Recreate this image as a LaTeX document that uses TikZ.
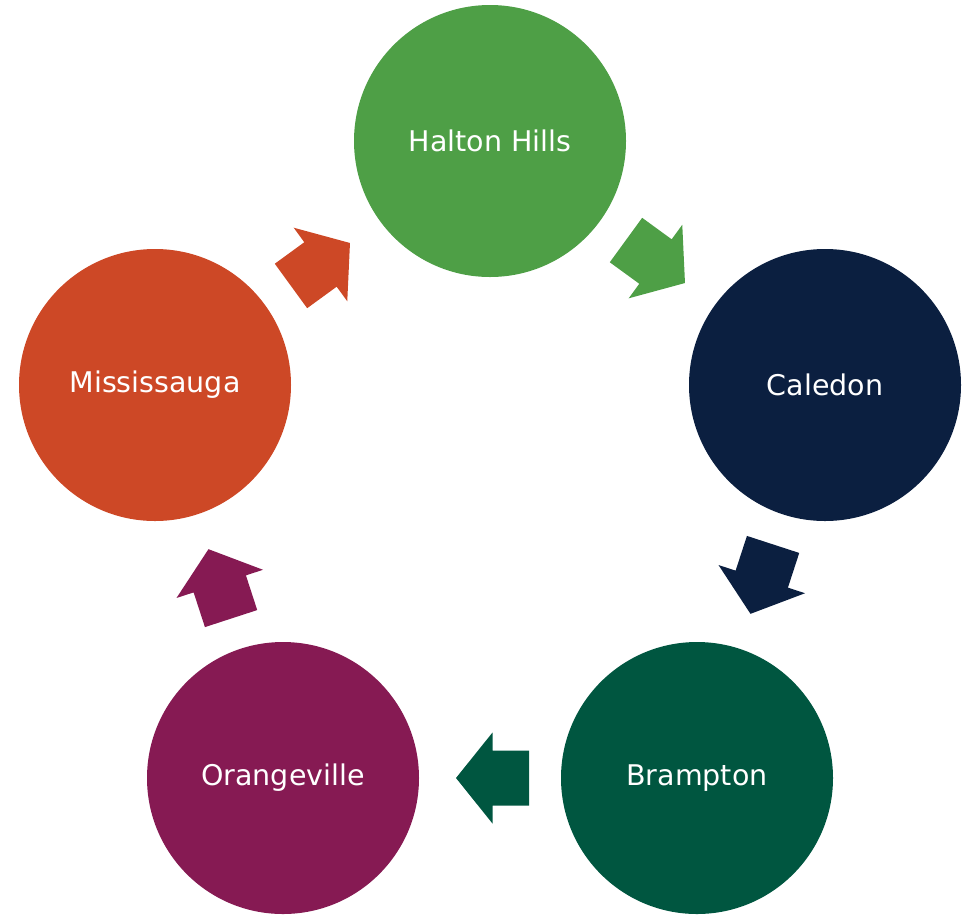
\documentclass[tikz,border=0pt]{standalone}
\usepackage{fontspec}
\setmainfont{DejaVu Sans}
\usetikzlibrary{calc}
\definecolor{cgreen}{HTML}{4E9F46}
\definecolor{cnavy}{HTML}{0B1F40}
\definecolor{cdgreen}{HTML}{005640}
\definecolor{cpurple}{HTML}{861A53}
\definecolor{corange}{HTML}{CD4826}
\tikzset{
  city/.style={circle, minimum size=272pt, inner sep=0pt, text=white, font=\fontsize{28.5}{32}\selectfont},
  cycarrow/.pic={\fill (-39,-27.5) -- (-2.5,-27.5) -- (-2.5,-45.5) -- (34,0) -- (-2.5,45.5) -- (-2.5,27.5) -- (-39,27.5) -- cycle;}
}
\begin{document}
\begin{tikzpicture}[x=1pt,y=-1pt]
\useasboundingbox (0,0) rectangle (969,914);
\node[city, fill=cgreen] (h) at (490,141) {Halton Hills};
\node[city, fill=cnavy] (c) at (825,385) {Caledon};
\node[city, fill=cdgreen] (b) at (697,778) {Brampton};
\node[city, fill=cpurple] (o) at (283,778) {Orangeville};
\node[city, fill=corange] (m) at (155,385) {Mississauga};
\foreach \a/\b/\col in {h/c/cgreen, c/b/cnavy, b/o/cdgreen, o/m/cpurple, m/h/corange}{
  \path let \p1=($(\b.center)-(\a.center)$), \n1={atan2(\y1,\x1)} in
    ($(\a.center)!0.5!(\b.center)$) pic[rotate=\n1, fill=\col] {cycarrow};
}
\end{tikzpicture}
\end{document}
